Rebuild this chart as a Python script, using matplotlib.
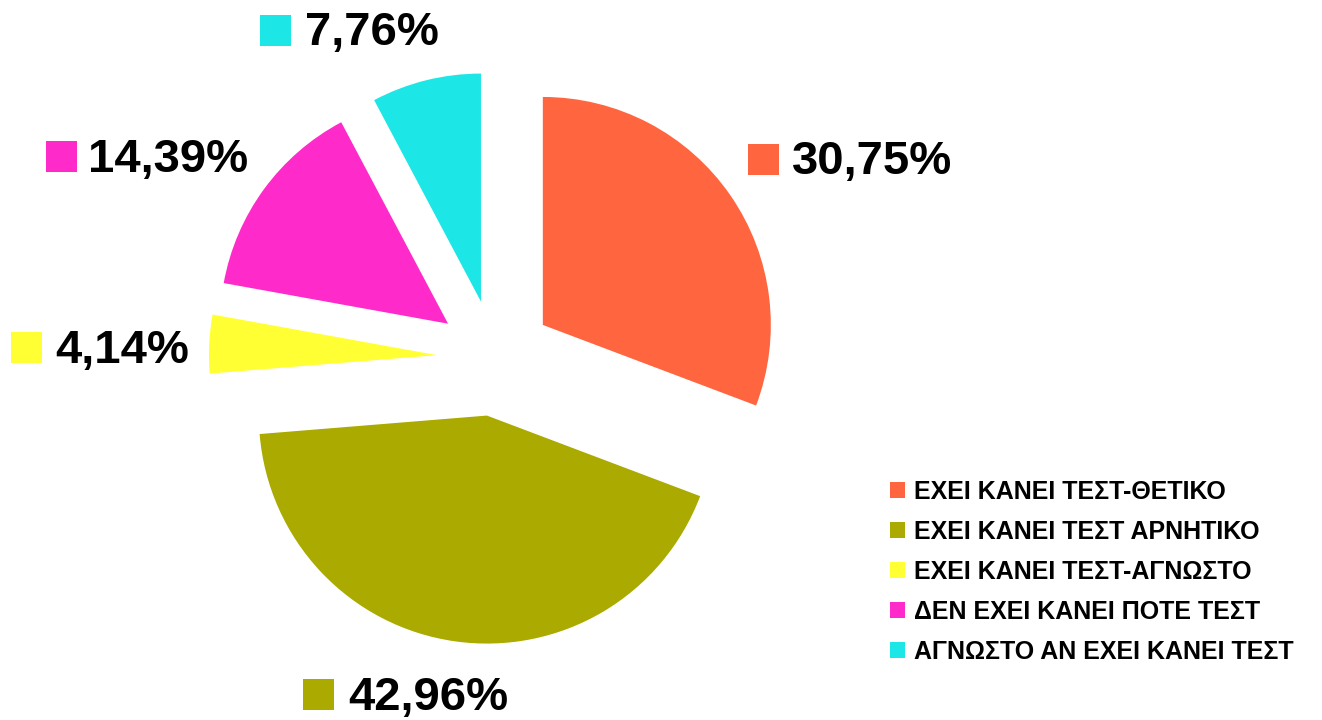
import matplotlib
matplotlib.use("Agg")
import matplotlib.pyplot as plt
from matplotlib.patches import Rectangle

# data
categories = [
    "ΕΧΕΙ ΚΑΝΕΙ ΤΕΣΤ-ΘΕΤΙΚΟ",
    "ΕΧΕΙ ΚΑΝΕΙ ΤΕΣΤ ΑΡΝΗΤΙΚΟ",
    "ΕΧΕΙ ΚΑΝΕΙ ΤΕΣΤ-ΑΓΝΩΣΤΟ",
    "ΔΕΝ ΕΧΕΙ ΚΑΝΕΙ ΠΟΤΕ ΤΕΣΤ",
    "ΑΓΝΩΣΤΟ ΑΝ ΕΧΕΙ ΚΑΝΕΙ ΤΕΣΤ",
]
values = [30.75, 42.96, 4.14, 14.39, 7.76]
colors = ["#FF6640", "#AAAA00", "#FFFF33", "#FF2ACA", "#1CE6E6"]

# label placement in pixels (square left, square top, text x, baseline), screen coords
label_pos = [
    (748, 144, 792, 174),
    (303, 679, 348, 710),
    (11, 332, 55, 363),
    (46, 141, 88, 172),
    (260, 15, 305, 45),
]

plt.rcParams["font.family"] = ["Liberation Sans", "DejaVu Sans"]

W, H = 1322, 720
R = 228
fig = plt.figure(figsize=(W / 100, H / 100), dpi=100)
ax = fig.add_axes([0, 0, 1, 1])

# explode is in data units here, so scale by the radius
wedges, _ = ax.pie(values, colors=colors, startangle=90, counterclock=False,
                   explode=[0.255 * R] * len(values), radius=R,
                   center=(495, H - 358), wedgeprops=dict(linewidth=0))

ax.set_xlim(0, W)
ax.set_ylim(0, H)
ax.set_aspect("equal")
ax.axis("off")

sq = 31
for v, c, (sx, sy, tx, ty) in zip(values, colors, label_pos):
    ax.add_patch(Rectangle((sx, H - sy - sq), sq, sq, color=c, lw=0))
    txt = f"{v:.2f}%".replace(".", ",")
    ax.text(tx, H - ty, txt, fontsize=34, fontweight="bold",
            ha="left", va="baseline")

leg = ax.legend(wedges, categories, loc="upper left",
                bbox_to_anchor=(890, H - 480), bbox_transform=ax.transData,
                frameon=False, borderpad=0, borderaxespad=0,
                handlelength=0.6, handleheight=0.6, handletextpad=0.34,
                labelspacing=0.64, prop=dict(size=18, weight="bold"))

fig.savefig("out.png", dpi=100)
